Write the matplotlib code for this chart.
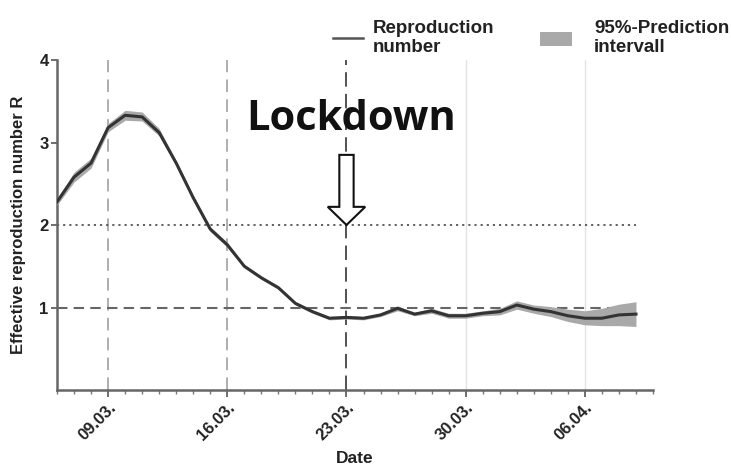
import matplotlib
matplotlib.use('Agg')
import matplotlib.pyplot as plt
import matplotlib.dates as mdates
from matplotlib.patches import Polygon, Rectangle
from matplotlib.lines import Line2D
import numpy as np
import pandas as pd

plt.rcParams['font.family'] = ['Liberation Sans Narrow', 'Liberation Sans', 'DejaVu Sans']

# daily estimates, 06.03. - 09.04.
dates = pd.date_range('2020-03-06', '2020-04-09', freq='D')
r_mean = [2.28, 2.58, 2.75, 3.18, 3.33, 3.31, 3.12, 2.75, 2.33, 1.95,
          1.76, 1.50, 1.36, 1.24, 1.05, 0.95, 0.87, 0.88, 0.87, 0.91,
          0.99, 0.92, 0.96, 0.90, 0.90, 0.93, 0.95, 1.03, 0.98, 0.95,
          0.90, 0.87, 0.87, 0.91, 0.92]
r_low = [2.24, 2.52, 2.69, 3.13, 3.27, 3.26, 3.08, 2.72, 2.30, 1.92,
         1.73, 1.48, 1.34, 1.22, 1.03, 0.93, 0.85, 0.86, 0.85, 0.89,
         0.96, 0.90, 0.93, 0.87, 0.87, 0.90, 0.91, 0.98, 0.93, 0.89,
         0.83, 0.79, 0.78, 0.78, 0.77]
r_high = [2.32, 2.64, 2.81, 3.23, 3.39, 3.37, 3.17, 2.78, 2.36, 1.98,
          1.79, 1.52, 1.38, 1.26, 1.07, 0.97, 0.89, 0.90, 0.89, 0.93,
          1.02, 0.94, 0.99, 0.93, 0.93, 0.96, 0.99, 1.08, 1.03, 1.01,
          0.98, 0.96, 0.99, 1.04, 1.07]

tick_dates = pd.to_datetime(['2020-03-09', '2020-03-16', '2020-03-23', '2020-03-30', '2020-04-06'])
lockdown = pd.Timestamp('2020-03-23')

fig = plt.figure(figsize=(7.31, 4.71), dpi=100)
ax = fig.add_axes([57/731, 81/471, 596/731, 330/471])

# reference lines
ax.axvline(tick_dates[0], color='#a8a8a8', lw=1.3, ls=(0, (7, 4)), zorder=1)
ax.axvline(tick_dates[1], color='#a8a8a8', lw=1.3, ls=(0, (7, 4)), zorder=1)
ax.axvline(lockdown, color='#444444', lw=1.3, ls=(0, (8, 4)), zorder=1)
ax.axvline(tick_dates[3], color='#e2e2e2', lw=1.0, zorder=1)
ax.axvline(tick_dates[4], color='#e2e2e2', lw=1.0, zorder=1)
ax.hlines(2, dates[0], dates[-1], color='#555555', lw=1.3, ls=(0, (1.2, 2.2)), zorder=2)
ax.hlines(1, dates[0], dates[-1], color='#666666', lw=1.5, ls=(0, (5, 3)), zorder=2)

ax.fill_between(dates, r_low, r_high, color='#a9a9a9', lw=0, zorder=3)
ax.plot(dates, r_mean, color='#333333', lw=2.2, zorder=4)

x0 = mdates.date2num(dates[0])
ax.set_xlim(x0, x0 + 35)
ax.set_ylim(0, 4)
ax.set_yticks([1, 2, 3, 4])
ax.set_xticks(tick_dates)
ax.xaxis.set_major_formatter(mdates.DateFormatter('%d.%m.'))
ax.xaxis.set_minor_locator(mdates.DayLocator())
ax.tick_params(axis='x', which='major', length=5, width=1.2, color='#555555',
               labelsize=12, labelcolor='#222222', pad=2)
ax.tick_params(axis='x', which='minor', length=3, width=1, color='#777777')
ax.tick_params(axis='y', length=4, width=1.2, color='#555555', labelsize=12,
               labelcolor='#222222', pad=2)
for lab in ax.get_xticklabels():
    lab.set_rotation(45)
    lab.set_ha('right')
    lab.set_rotation_mode('anchor')
    lab.set_fontweight('bold')
for lab in ax.get_yticklabels():
    lab.set_fontweight('bold')

for side in ['top', 'right']:
    ax.spines[side].set_visible(False)
for side in ['left', 'bottom']:
    ax.spines[side].set_color('#666666')
    ax.spines[side].set_linewidth(1.8)

ax.set_ylabel('Effective reproduction number R', fontsize=12, fontweight='bold',
              color='#222222', labelpad=10)
ax.set_xlabel('Date', fontsize=12.5, fontweight='bold', color='#222222', labelpad=6)

# hollow lockdown arrow
xl = mdates.date2num(lockdown)
arrow = [(xl - 0.42, 2.85), (xl + 0.42, 2.85), (xl + 0.42, 2.22), (xl + 1.1, 2.22),
         (xl, 2.0), (xl - 1.1, 2.22), (xl - 0.42, 2.22)]
ax.add_patch(Polygon(arrow, closed=True, facecolor='white', edgecolor='#111111',
                     lw=1.5, zorder=5))
ax.text(xl + 0.25, 3.28, 'Lockdown', fontsize=30, fontweight='bold',
        family=['Open Sans', 'DejaVu Sans'], ha='center', va='center',
        color='#111111', zorder=6)

# legend above the plot
fig.add_artist(Line2D([333/731, 363/731], [1 - 38/471, 1 - 38/471],
                      color='#555555', lw=1.8))
fig.text(373/731, 1 - 38/471, 'Reproduction\nnumber', fontsize=13.5,
         fontweight='bold', color='#222222', va='center', linespacing=1.15)
fig.add_artist(Rectangle((540/731, 1 - 46/471), 32/731, 14/471,
                         facecolor='#a9a9a9', edgecolor='none'))
fig.text(594/731, 1 - 38/471, '95%-Prediction\nintervall', fontsize=13.5,
         fontweight='bold', color='#222222', va='center', linespacing=1.15)

fig.savefig('out.png', dpi=100)
